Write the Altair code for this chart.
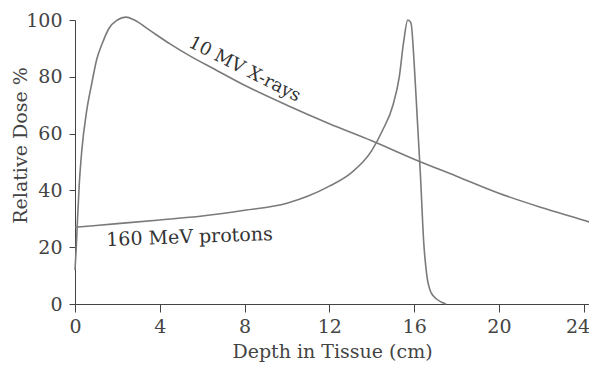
import altair as alt
import pandas as pd

# X-ray depth-dose curve (depth cm, relative dose %)
xray_depth = [0.0, 0.06, 0.12, 0.2, 0.32, 0.55, 0.8, 1.02, 1.3, 1.6, 2.0, 2.4, 2.8, 3.5, 4.5, 5.5,
              6.5, 8.0, 10.0, 12.0, 14.0, 16.0, 18.0, 20.0, 22.0, 24.0, 24.3]
xray_dose = [12, 20, 30, 42, 54, 68, 78, 86, 92, 97, 100, 101, 100, 96.5, 91.5, 87,
             83, 77, 70, 63.5, 57.5, 51, 45, 39, 34, 29.5, 28.8]

# 160 MeV proton depth-dose curve
proton_depth = [0.0, 2.0, 4.0, 6.0, 8.0, 10.0, 11.0, 12.0, 13.0, 14.0, 14.5, 15.0, 15.3, 15.5,
                15.7, 15.85, 16.0, 16.15, 16.3, 16.45, 16.6, 16.8, 17.1, 17.5]
proton_dose = [27, 28.3, 29.6, 31, 33, 35.5, 38, 41.5, 46, 54, 61, 70, 80, 92,
               100, 99, 85, 65, 45, 22, 10, 4, 1.5, 0]

# Annotations
label_text = ["10 MV X-rays", "160 MeV protons"]
label_depth = [8.0, 5.4]
label_dose = [82.5, 23.6]

x_ticks = [0, 4, 8, 12, 16, 20, 24]
y_ticks = [0, 20, 40, 60, 80, 100]

FONT = "DejaVu Serif"
INK = "#444444"
LINE = "#7a7a7a"

xray = pd.DataFrame({"depth": xray_depth, "dose": xray_dose, "series": "xray"})
proton = pd.DataFrame({"depth": proton_depth, "dose": proton_dose, "series": "proton"})
curves = pd.concat([xray, proton], ignore_index=True)
labels = pd.DataFrame({"text": label_text, "depth": label_depth, "dose": label_dose})

x_scale = alt.Scale(domain=[0, 24.25], nice=False, zero=False)
y_scale = alt.Scale(domain=[0, 100], nice=False)

x_axis = alt.Axis(values=x_ticks, title="Depth in Tissue (cm)", grid=False, tickSize=8,
                  labelPadding=5, titlePadding=6, domainColor=INK, tickColor=INK,
                  labelColor=INK, titleColor=INK, labelFont=FONT, titleFont=FONT,
                  labelFontSize=19, titleFontSize=19, titleFontWeight="normal",
                  labelFlush=7, labelFlushOffset=6)
y_axis = alt.Axis(values=y_ticks, title="Relative Dose %", grid=False, tickSize=6,
                  labelPadding=7, domainColor=INK, tickColor=INK, labelColor=INK,
                  titleColor=INK, labelFont=FONT, titleFont=FONT, labelFontSize=19,
                  titleFontSize=19, titleFontWeight="normal", titleAngle=270,
                  titleX=-55, titleY=125, titleAlign="center", titleBaseline="middle")

lines = alt.Chart(curves).mark_line(color=LINE, strokeWidth=1.6, interpolate="monotone").encode(
    x=alt.X("depth:Q", scale=x_scale, axis=x_axis),
    y=alt.Y("dose:Q", scale=y_scale, axis=y_axis),
    detail="series:N",
)

text1 = alt.Chart(labels.iloc[[0]]).mark_text(
    font=FONT, fontSize=18, color="#333333", angle=27, align="center", baseline="middle"
).encode(x=alt.X("depth:Q", scale=x_scale), y=alt.Y("dose:Q", scale=y_scale), text="text:N")

text2 = alt.Chart(labels.iloc[[1]]).mark_text(
    font=FONT, fontSize=19, color="#333333", angle=358, align="center", baseline="middle"
).encode(x=alt.X("depth:Q", scale=x_scale), y=alt.Y("dose:Q", scale=y_scale), text="text:N")

chart = alt.layer(lines, text1, text2).properties(
    width=514, height=284,
    autosize=alt.AutoSizeParams(type="none"),
    padding={"left": 67, "top": 12, "right": 0, "bottom": 62},
    background="white",
).configure_view(stroke=None)

chart.save("out.html", embed_options={"renderer": "svg", "actions": False})
